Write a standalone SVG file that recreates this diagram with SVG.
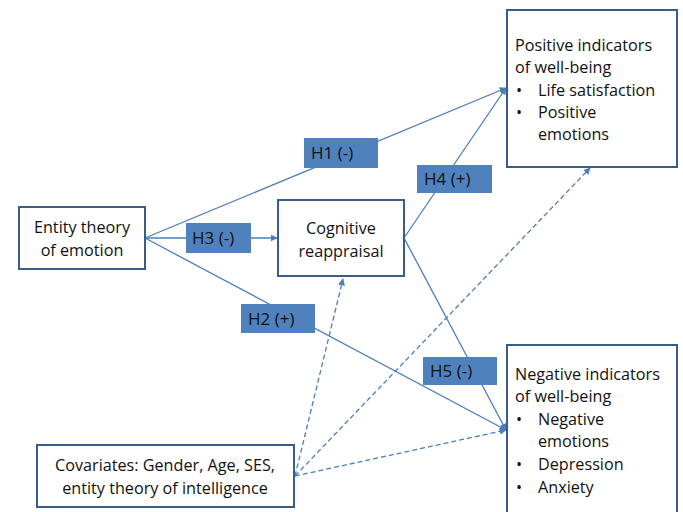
<svg xmlns="http://www.w3.org/2000/svg" width="683" height="512" viewBox="0 0 683 512">
<style>
.box{fill:#fff;stroke:#385D8A;stroke-width:2}
.lab{fill:#4F81BD;stroke:none}
.t{font-family:"Open Sans","Liberation Sans",sans-serif;font-size:16.2px;fill:#111}
.l{font-size:17px}
.c{stroke:#4A7EBB;stroke-width:1.3;fill:none}
.d{stroke-dasharray:5,3}
</style>
<defs>
<marker id="a" viewBox="0 0 10 10" refX="9" refY="5" markerWidth="7" markerHeight="7" orient="auto" markerUnits="userSpaceOnUse">
<path d="M0,0 L10,5 L0,10 z" fill="#4A7EBB"/>
</marker>
</defs>
<g id="connectors">
<line class="c" x1="145" y1="238" x2="506" y2="88" marker-end="url(#a)"/>
<line class="c" x1="145" y1="238" x2="277" y2="238" marker-end="url(#a)"/>
<line class="c" x1="145" y1="238" x2="506" y2="430" marker-end="url(#a)"/>
<line class="c" x1="404" y1="238" x2="506" y2="88" marker-end="url(#a)"/>
<line class="c" x1="404" y1="238" x2="506" y2="430" marker-end="url(#a)"/>
<line class="c d" x1="295" y1="476" x2="343" y2="279" marker-end="url(#a)"/>
<line class="c d" x1="295" y1="476" x2="590" y2="168" marker-end="url(#a)"/>
<line class="c d" x1="295" y1="476" x2="506" y2="430" marker-end="url(#a)"/>
</g>
<g id="entity">
<rect class="box" x="19" y="207" width="126" height="62"/>
<text class="t" x="82" y="233" text-anchor="middle">Entity theory</text>
<text class="t" x="82" y="256" text-anchor="middle">of emotion</text>
</g>
<g id="cognitive">
<rect class="box" x="278" y="200" width="126" height="76"/>
<text class="t" x="341" y="234" text-anchor="middle">Cognitive</text>
<text class="t" x="341" y="257" text-anchor="middle">reappraisal</text>
</g>
<g id="positive">
<rect class="box" x="507" y="10" width="170" height="157"/>
<text class="t" x="515" y="51">Positive indicators</text>
<text class="t" x="515" y="73">of well-being</text>
<text class="t" x="516" y="96">•</text>
<text class="t" x="538" y="96">Life satisfaction</text>
<text class="t" x="516" y="118">•</text>
<text class="t" x="538" y="118">Positive</text>
<text class="t" x="538" y="140">emotions</text>
</g>
<g id="negative">
<rect class="box" x="507" y="345" width="170" height="175"/>
<text class="t" x="515" y="380">Negative indicators</text>
<text class="t" x="515" y="402">of well-being</text>
<text class="t" x="516" y="425">•</text>
<text class="t" x="538" y="425">Negative</text>
<text class="t" x="538" y="447">emotions</text>
<text class="t" x="516" y="470">•</text>
<text class="t" x="538" y="470">Depression</text>
<text class="t" x="516" y="493">•</text>
<text class="t" x="538" y="493">Anxiety</text>
</g>
<g id="covariates">
<rect class="box" x="37" y="445" width="257" height="62"/>
<text class="t" x="165" y="471" text-anchor="middle">Covariates: Gender, Age, SES,</text>
<text class="t" x="165" y="494" text-anchor="middle">entity theory of intelligence</text>
</g>
<g id="H1">
<rect class="lab" x="304" y="138" width="74" height="30"/>
<text class="t l" x="311" y="159">H1 (-)</text>
</g>
<g id="H3">
<rect class="lab" x="186" y="223" width="65" height="30"/>
<text class="t l" x="192" y="244">H3 (-)</text>
</g>
<g id="H2">
<rect class="lab" x="241" y="304" width="74" height="29"/>
<text class="t l" x="248" y="325">H2 (+)</text>
</g>
<g id="H4">
<rect class="lab" x="417" y="165" width="75" height="28"/>
<text class="t l" x="424" y="185">H4 (+)</text>
</g>
<g id="H5">
<rect class="lab" x="423" y="357" width="74" height="28"/>
<text class="t l" x="430" y="377">H5 (-)</text>
</g>
</svg>
